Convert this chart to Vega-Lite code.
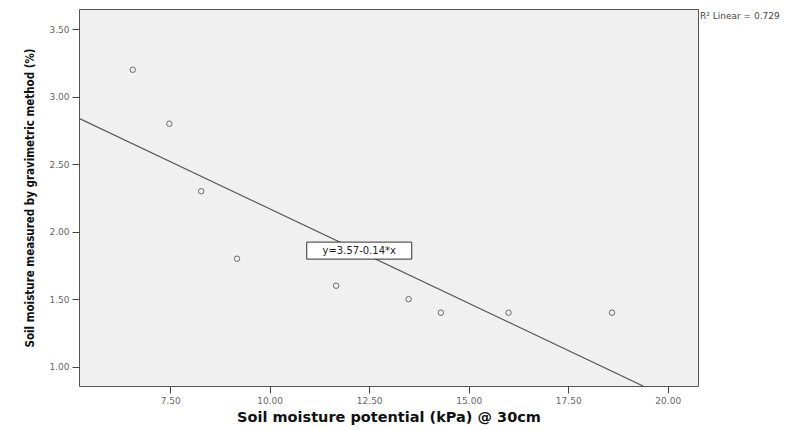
{
  "$schema": "https://vega.github.io/schema/vega-lite/v6.json",
  "autosize": "none",
  "width": 619,
  "height": 377,
  "padding": {"left": 79, "top": 9, "right": 111, "bottom": 44},
  "background": "white",
  "config": {
    "view": {"fill": "#f0f0f0", "stroke": "#555555", "strokeWidth": 1},
    "axis": {
      "grid": false,
      "domain": false,
      "tickColor": "#444444",
      "tickSize": 7,
      "labelPadding": 3,
      "labelFont": "DejaVu Sans",
      "labelFontSize": 9,
      "labelColor": "#666666",
      "titleColor": "#111111"
    }
  },
  "datasets": {
    "pts": [
      {"x": 6.56, "y": 3.2},
      {"x": 7.48, "y": 2.8},
      {"x": 8.28, "y": 2.3},
      {"x": 9.18, "y": 1.8},
      {"x": 11.67, "y": 1.6},
      {"x": 13.49, "y": 1.5},
      {"x": 14.3, "y": 1.4},
      {"x": 16.0, "y": 1.4},
      {"x": 18.6, "y": 1.4}
    ],
    "fit": [
      {"x": 5.21, "y": 2.84},
      {"x": 19.38, "y": 0.857}
    ],
    "eq": [
      {"x": 12.25, "y": 1.86, "label": "y=3.57-0.14*x"}
    ],
    "r2": [
      {"x": 20.76, "y": 3.6, "label": "R² Linear = 0.729"}
    ]
  },
  "layer": [
    {
      "data": {"name": "fit"},
      "mark": {"type": "line", "color": "#555555", "strokeWidth": 1.2, "clip": true},
      "encoding": {
        "x": {
          "field": "x", "type": "quantitative",
          "scale": {"domain": [5.21, 20.76], "nice": false, "zero": false},
          "axis": {
            "values": [7.5, 10, 12.5, 15, 17.5, 20],
            "format": ".2f",
            "title": "Soil moisture potential (kPa) @ 30cm",
            "titleFont": "DejaVu Sans",
            "titleFontWeight": "bold",
            "titleFontSize": 14.5,
            "titlePadding": 5
          }
        },
        "y": {
          "field": "y", "type": "quantitative",
          "scale": {"domain": [0.857, 3.65], "nice": false, "zero": false},
          "axis": {
            "values": [1, 1.5, 2, 2.5, 3, 3.5],
            "format": ".2f",
            "title": "Soil moisture measured by gravimetric method (%)",
            "titleFont": "DejaVu Sans Condensed",
            "titleFontWeight": "bold",
            "titleFontSize": 11.5,
            "titlePadding": 13
          }
        }
      }
    },
    {
      "data": {"name": "pts"},
      "mark": {"type": "point", "shape": "circle", "filled": false, "size": 30, "stroke": "#333333", "strokeWidth": 1},
      "encoding": {
        "x": {"field": "x", "type": "quantitative"},
        "y": {"field": "y", "type": "quantitative"}
      }
    },
    {
      "data": {"name": "eq"},
      "mark": {"type": "rect", "fill": "white", "stroke": "#333333", "strokeWidth": 1, "width": 105, "height": 17},
      "encoding": {
        "x": {"field": "x", "type": "quantitative"},
        "y": {"field": "y", "type": "quantitative"}
      }
    },
    {
      "data": {"name": "eq"},
      "mark": {"type": "text", "font": "DejaVu Sans", "fontSize": 10, "color": "#222222"},
      "encoding": {
        "x": {"field": "x", "type": "quantitative"},
        "y": {"field": "y", "type": "quantitative"},
        "text": {"field": "label"}
      }
    },
    {
      "data": {"name": "r2"},
      "mark": {"type": "text", "align": "left", "baseline": "middle", "dx": 2, "font": "DejaVu Sans", "fontSize": 9, "color": "#444444", "clip": false},
      "encoding": {
        "x": {"field": "x", "type": "quantitative"},
        "y": {"field": "y", "type": "quantitative"},
        "text": {"field": "label"}
      }
    }
  ]
}
